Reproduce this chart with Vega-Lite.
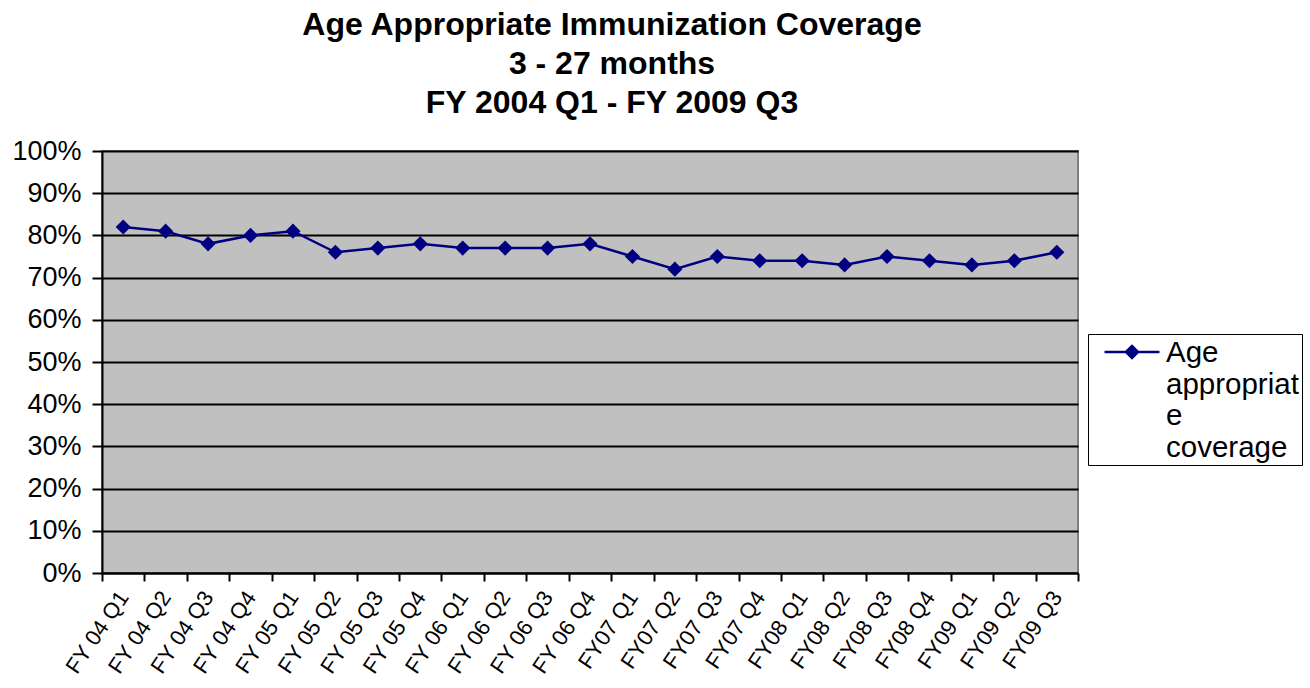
{
  "$schema": "https://vega.github.io/schema/vega-lite/v6.json",
  "autosize": {"type": "none"},
  "padding": {"left": 102, "top": 151, "right": 232, "bottom": 115},
  "width": 976,
  "height": 422,
  "background": "white",
  "title": {
    "text": ["Age Appropriate Immunization Coverage", "3 - 27 months", "FY 2004 Q1 - FY 2009 Q3"],
    "font": "Liberation Sans",
    "fontSize": 32,
    "fontWeight": "bold",
    "color": "black",
    "anchor": "middle",
    "dx": 22,
    "lineHeight": 39,
    "offset": 17
  },
  "config": {
    "view": {"fill": "#C0C0C0", "stroke": "#808080", "strokeWidth": 2},
    "font": "Liberation Sans"
  },
  "data": {
    "values": [
      {"quarter": "FY 04 Q1", "coverage": 0.82, "series": "Age appropriate coverage"},
      {"quarter": "FY 04 Q2", "coverage": 0.81, "series": "Age appropriate coverage"},
      {"quarter": "FY 04 Q3", "coverage": 0.78, "series": "Age appropriate coverage"},
      {"quarter": "FY 04 Q4", "coverage": 0.80, "series": "Age appropriate coverage"},
      {"quarter": "FY 05 Q1", "coverage": 0.81, "series": "Age appropriate coverage"},
      {"quarter": "FY 05 Q2", "coverage": 0.76, "series": "Age appropriate coverage"},
      {"quarter": "FY 05 Q3", "coverage": 0.77, "series": "Age appropriate coverage"},
      {"quarter": "FY 05 Q4", "coverage": 0.78, "series": "Age appropriate coverage"},
      {"quarter": "FY 06 Q1", "coverage": 0.77, "series": "Age appropriate coverage"},
      {"quarter": "FY 06 Q2", "coverage": 0.77, "series": "Age appropriate coverage"},
      {"quarter": "FY 06 Q3", "coverage": 0.77, "series": "Age appropriate coverage"},
      {"quarter": "FY 06 Q4", "coverage": 0.78, "series": "Age appropriate coverage"},
      {"quarter": "FY07 Q1", "coverage": 0.75, "series": "Age appropriate coverage"},
      {"quarter": "FY07 Q2", "coverage": 0.72, "series": "Age appropriate coverage"},
      {"quarter": "FY07 Q3", "coverage": 0.75, "series": "Age appropriate coverage"},
      {"quarter": "FY07 Q4", "coverage": 0.74, "series": "Age appropriate coverage"},
      {"quarter": "FY08 Q1", "coverage": 0.74, "series": "Age appropriate coverage"},
      {"quarter": "FY08 Q2", "coverage": 0.73, "series": "Age appropriate coverage"},
      {"quarter": "FY08 Q3", "coverage": 0.75, "series": "Age appropriate coverage"},
      {"quarter": "FY08 Q4", "coverage": 0.74, "series": "Age appropriate coverage"},
      {"quarter": "FY09 Q1", "coverage": 0.73, "series": "Age appropriate coverage"},
      {"quarter": "FY09 Q2", "coverage": 0.74, "series": "Age appropriate coverage"},
      {"quarter": "FY09 Q3", "coverage": 0.76, "series": "Age appropriate coverage"}
    ]
  },
  "encoding": {
    "x": {
      "field": "quarter",
      "type": "nominal",
      "sort": null,
      "scale": {"paddingInner": 0, "paddingOuter": 0},
      "axis": {
        "title": null,
        "labelAngle": -56,
        "labelAlign": "right",
        "labelBaseline": "middle",
        "labelFontSize": 22,
        "labelColor": "black",
        "labelPadding": 12,
        "labelFont": "Liberation Sans",
        "labelOverlap": false,
        "tickBand": "extent",
        "tickColor": "black",
        "tickWidth": 2,
        "tickSize": 8,
        "domainColor": "black",
        "domainWidth": 2,
        "grid": false
      }
    },
    "y": {
      "field": "coverage",
      "type": "quantitative",
      "scale": {"domain": [0, 1], "nice": false},
      "axis": {
        "title": null,
        "format": ".0%",
        "values": [0, 0.1, 0.2, 0.3, 0.4, 0.5, 0.6, 0.7, 0.8, 0.9, 1],
        "labelFontSize": 27,
        "labelColor": "black",
        "labelFont": "Liberation Sans",
        "labelPadding": 11,
        "labelOverlap": false,
        "tickColor": "black",
        "tickWidth": 2,
        "tickSize": 10,
        "domainColor": "black",
        "domainWidth": 2,
        "grid": true,
        "gridColor": "black",
        "gridWidth": 2,
        "gridOpacity": 1
      }
    },
    "color": {
      "field": "series",
      "type": "nominal",
      "scale": {"range": ["#000080"]},
      "legend": {
        "title": null,
        "orient": "none",
        "legendX": 986,
        "legendY": 183,
        "labelExpr": "['Age', 'appropriat', 'e', 'coverage']",
        "labelFontSize": 29.5,
        "labelFont": "Liberation Sans",
        "labelColor": "black",
        "labelLimit": 400,
        "labelBaseline": "alphabetic",
        "labelLineHeight": 33,
        "labelOffset": 19,
        "symbolOffset": 26,
        "symbolType": "M-2,0H2M-0.44,0L0,-0.44L0.44,0L0,0.44Z",
        "symbolSize": 756,
        "symbolStrokeWidth": 2.5,
        "symbolFillColor": "#000080",
        "symbolStrokeColor": "#000080",
        "strokeColor": "black",
        "fillColor": "white",
        "padding": 3,
        "encode": {"labels": {"update": {"dy": {"value": 10}}}}
      }
    }
  },
  "layer": [
    {"mark": {"type": "line", "strokeWidth": 2.5}},
    {"mark": {"type": "point", "shape": "diamond", "filled": true, "size": 230, "opacity": 1}}
  ]
}
